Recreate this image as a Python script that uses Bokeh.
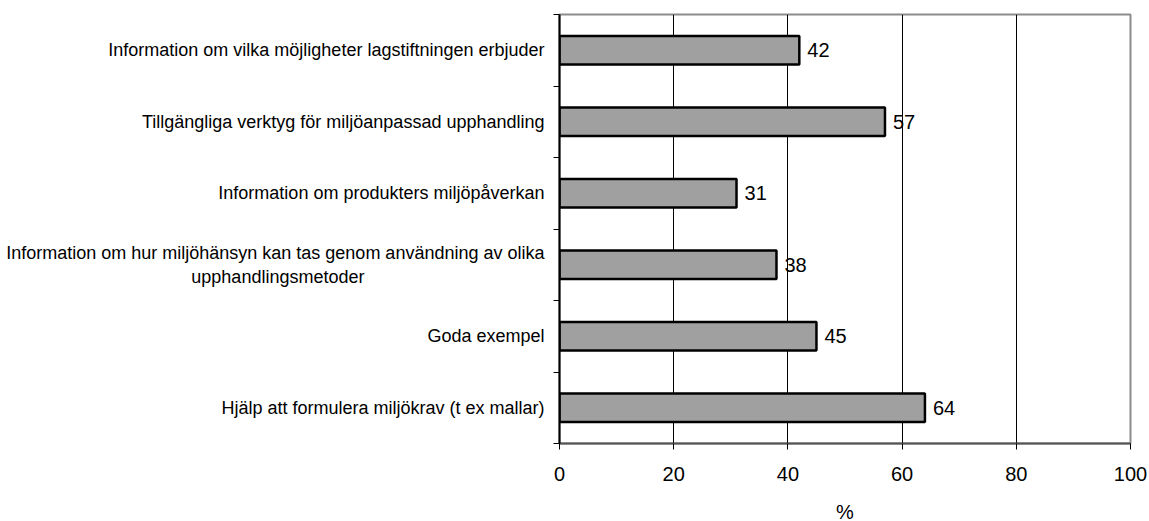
from bokeh.plotting import figure
from bokeh.models import Range1d, FixedTicker
from bokeh.core.properties import value
from bokeh.embed import file_html
from bokeh.resources import INLINE

NBSP = "\u00a0"
categories = [
    "Information om vilka möjligheter lagstiftningen erbjuder",
    "Tillgängliga verktyg för miljöanpassad upphandling",
    "Information om produkters miljöpåverkan",
    "Information om hur miljöhänsyn kan tas genom användning av olika\nupphandlingsmetoder" + NBSP * 36,
    "Goda exempel",
    "Hjälp att formulera miljökrav (t ex mallar)",
]
values = [42, 57, 31, 38, 45, 64]
x_ticks = [0, 20, 40, 60, 80, 100]
x_label = "%"

FONT = "Liberation Sans"
n = len(categories)
ypos = [n - i - 0.5 for i in range(n)]
labels = [str(v) for v in values]

p = figure(
    output_backend="svg", toolbar_location=None,
    frame_width=571, frame_height=429,
    min_border_left=559, min_border_right=19, min_border_top=14, min_border_bottom=0,
    x_range=Range1d(0, 100), y_range=Range1d(0, n),
)
p.background_fill_color = "white"
p.border_fill_color = "white"
p.outline_line_color = "#8c8c8c"
p.outline_line_width = 2

p.hbar(y=ypos, left=0, right=values, height=0.4,
       fill_color="#a0a0a0", line_color="black", line_width=2.5)
p.text(x=values, y=ypos, text=labels, x_offset=8,
       text_baseline="middle", text_align="left",
       text_font=value(FONT), text_font_size="20px", text_color="black")

# x axis
xa = p.xaxis[0]
xa.ticker = FixedTicker(ticks=x_ticks)
xa.major_tick_out = 6
xa.major_tick_in = 0
xa.minor_tick_line_color = None
xa.major_tick_line_color = "black"
xa.axis_line_color = "#555555"
xa.axis_line_width = 2
xa.major_label_text_font = FONT
xa.major_label_text_font_size = "20px"
xa.major_label_text_color = "black"
xa.major_label_standoff = 17
xa.axis_label = x_label
xa.axis_label_text_font = FONT
xa.axis_label_text_font_size = "20px"
xa.axis_label_text_font_style = "normal"
xa.axis_label_text_color = "black"
xa.axis_label_standoff = 17

# y axis
ya = p.yaxis[0]
ya.ticker = FixedTicker(ticks=ypos, minor_ticks=list(range(n + 1)))
ya.major_label_overrides = {y: c for y, c in zip(ypos, categories)}
ya.major_tick_line_color = None
ya.major_tick_out = 0
ya.major_tick_in = 0
ya.minor_tick_line_color = "black"
ya.minor_tick_out = 6
ya.minor_tick_in = 0
ya.axis_line_color = "black"
ya.axis_line_width = 2
ya.major_label_text_font = FONT
ya.major_label_text_font_size = "18px"
ya.major_label_text_color = "black"
ya.major_label_standoff = 9

p.xgrid.ticker = FixedTicker(ticks=x_ticks[1:-1])
p.xgrid.grid_line_color = "black"
p.xgrid.grid_line_width = 1
p.ygrid.grid_line_color = None

open("out.html", "w").write(file_html(p, INLINE))
